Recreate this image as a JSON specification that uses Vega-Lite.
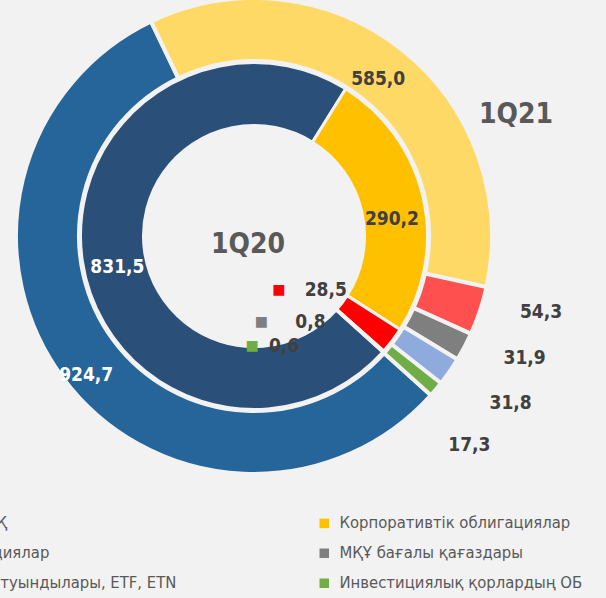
{
  "$schema": "https://vega.github.io/schema/vega-lite/v6.json",
  "width": 508,
  "height": 472,
  "autosize": {"type": "none"},
  "padding": {"left": 0, "top": 0, "right": 98, "bottom": 126},
  "background": "#f2f2f2",
  "config": {
    "view": {"stroke": null},
    "locale": {"number": {"decimal": ",", "thousands": " ", "grouping": [3], "currency": ["", ""]}},
    "text": {"font": "DejaVu Sans Condensed", "fontWeight": "bold", "fontSize": 19, "color": "#404040"},
    "legend": {
      "orient": "none",
      "legendX": -50,
      "legendY": 515,
      "columns": 2,
      "columnPadding": 139,
      "rowPadding": 13,
      "symbolType": "square",
      "symbolSize": 90,
      "symbolStrokeWidth": 0,
      "labelFont": "DejaVu Sans Condensed",
      "labelFontSize": 16.5,
      "labelColor": "#595959",
      "labelOffset": 7,
      "labelLimit": 0
    }
  },
  "data": {
    "values": [
      {"ring": "1Q21", "k": "blue", "cat": "МБҚ", "order": 1, "value": 924.7},
      {"ring": "1Q21", "k": "yellow", "cat": "Корпоративтік облигациялар", "order": 2, "value": 585.0},
      {"ring": "1Q21", "k": "red", "cat": "Акциялар", "order": 3, "value": 54.3},
      {"ring": "1Q21", "k": "grey", "cat": "МҚҰ бағалы қағаздары", "order": 4, "value": 31.9},
      {"ring": "1Q21", "k": "lightblue", "cat": "ДҚ туындылары, ETF, ETN", "order": 5, "value": 31.8},
      {"ring": "1Q21", "k": "green", "cat": "Инвестициялық қорлардың ОБ", "order": 6, "value": 17.3},
      {"ring": "1Q20", "k": "blue", "cat": "МБҚ", "order": 1, "value": 831.5},
      {"ring": "1Q20", "k": "yellow", "cat": "Корпоративтік облигациялар", "order": 2, "value": 290.2},
      {"ring": "1Q20", "k": "red", "cat": "Акциялар", "order": 3, "value": 28.5},
      {"ring": "1Q20", "k": "grey", "cat": "МҚҰ бағалы қағаздары", "order": 4, "value": 0.8},
      {"ring": "1Q20", "k": "lightblue", "cat": "ДҚ туындылары, ETF, ETN", "order": 5, "value": 0},
      {"ring": "1Q20", "k": "green", "cat": "Инвестициялық қорлардың ОБ", "order": 6, "value": 0.6}
    ]
  },
  "resolve": {"scale": {"theta": "independent", "color": "independent"}},
  "layer": [
    {
      "transform": [{"filter": "datum.ring === '1Q21'"}],
      "encoding": {
        "theta": {"field": "value", "type": "quantitative", "stack": true, "scale": {"range": [2.304, 8.587]}},
        "order": {"field": "order", "type": "quantitative"}
      },
      "layer": [
        {
          "mark": {"type": "arc", "innerRadius": 175, "outerRadius": 238, "stroke": "#f2f2f2", "strokeWidth": 4},
          "encoding": {
            "color": {
              "field": "cat", "type": "nominal", "legend": null,
              "scale": {
                "domain": ["МБҚ", "Акциялар", "ДҚ туындылары, ETF, ETN", "Корпоративтік облигациялар", "МҚҰ бағалы қағаздары", "Инвестициялық қорлардың ОБ"],
                "range": ["#266599", "#FF5050", "#8FAADC", "#FFD966", "#7F7F7F", "#70AD47"]
              }
            }
          }
        },
        {
          "mark": {"type": "text", "radius": 200, "color": "#404040"},
          "encoding": {"text": {"condition": {"test": "datum.k === 'yellow'", "field": "value", "type": "quantitative", "format": ".1f"}, "value": ""}}
        },
        {
          "mark": {"type": "text", "radius": 218, "thetaOffset": -0.05, "color": "#ffffff"},
          "encoding": {"text": {"condition": {"test": "datum.k === 'blue'", "field": "value", "type": "quantitative", "format": ".1f"}, "value": ""}}
        },
        {
          "mark": {"type": "text", "radius": 297, "thetaOffset": -0.06, "color": "#404040"},
          "encoding": {"text": {"condition": {"test": "datum.k === 'red' || datum.k === 'grey'", "field": "value", "type": "quantitative", "format": ".1f"}, "value": ""}}
        },
        {
          "mark": {"type": "text", "radius": 306, "thetaOffset": -0.03, "color": "#404040"},
          "encoding": {"text": {"condition": {"test": "datum.k === 'lightblue'", "field": "value", "type": "quantitative", "format": ".1f"}, "value": ""}}
        },
        {
          "mark": {"type": "text", "radius": 300, "thetaOffset": 0.07, "color": "#404040"},
          "encoding": {"text": {"condition": {"test": "datum.k === 'green'", "field": "value", "type": "quantitative", "format": ".1f"}, "value": ""}}
        }
      ]
    },
    {
      "transform": [{"filter": "datum.ring === '1Q20'"}],
      "encoding": {
        "theta": {"field": "value", "type": "quantitative", "stack": true, "scale": {"range": [2.304, 8.587]}},
        "order": {"field": "order", "type": "quantitative"}
      },
      "layer": [
        {
          "mark": {"type": "arc", "innerRadius": 110.5, "outerRadius": 173.5, "stroke": "#f2f2f2", "strokeWidth": 3},
          "encoding": {
            "color": {
              "field": "cat", "type": "nominal", "title": null,
              "scale": {
                "domain": ["МБҚ", "Акциялар", "ДҚ туындылары, ETF, ETN", "Корпоративтік облигациялар", "МҚҰ бағалы қағаздары", "Инвестициялық қорлардың ОБ"],
                "range": ["#2A507A", "#FF0000", "#8FAADC", "#FFC000", "#7F7F7F", "#70AD47"]
              }
            }
          }
        },
        {
          "mark": {"type": "text", "radius": 139, "thetaOffset": 0.1, "color": "#404040"},
          "encoding": {"text": {"condition": {"test": "datum.k === 'yellow'", "field": "value", "type": "quantitative", "format": ".1f"}, "value": ""}}
        },
        {
          "mark": {"type": "text", "radius": 140, "thetaOffset": -0.08, "color": "#ffffff"},
          "encoding": {"text": {"condition": {"test": "datum.k === 'blue'", "field": "value", "type": "quantitative", "format": ".1f"}, "value": ""}}
        },
        {
          "mark": {"type": "text", "radius": 90, "thetaOffset": 0, "color": "#404040"},
          "encoding": {"text": {"condition": {"test": "datum.k === 'red'", "field": "value", "type": "quantitative", "format": ".1f"}, "value": ""}}
        },
        {
          "mark": {"type": "text", "radius": 90, "thetaOffset": 0, "dx": -47, "color": "#FF0000", "fontSize": 14, "font": "DejaVu Sans"},
          "encoding": {"text": {"condition": {"test": "datum.k === 'red'", "value": "■"}, "value": ""}}
        },
        {
          "mark": {"type": "text", "radius": 103, "thetaOffset": 0.264, "color": "#404040"},
          "encoding": {"text": {"condition": {"test": "datum.k === 'grey'", "field": "value", "type": "quantitative", "format": ".1f"}, "value": ""}}
        },
        {
          "mark": {"type": "text", "radius": 103, "thetaOffset": 0.264, "dx": -49, "color": "#7F7F7F", "fontSize": 14, "font": "DejaVu Sans"},
          "encoding": {"text": {"condition": {"test": "datum.k === 'grey'", "value": "■"}, "value": ""}}
        },
        {
          "mark": {"type": "text", "radius": 113.5, "thetaOffset": 0.59, "dx": 2, "color": "#404040"},
          "encoding": {"text": {"condition": {"test": "datum.k === 'green'", "field": "value", "type": "quantitative", "format": ".1f"}, "value": ""}}
        },
        {
          "mark": {"type": "text", "radius": 113.5, "thetaOffset": 0.59, "dx": -30, "color": "#70AD47", "fontSize": 14, "font": "DejaVu Sans"},
          "encoding": {"text": {"condition": {"test": "datum.k === 'green'", "value": "■"}, "value": ""}}
        }
      ]
    },
    {
      "data": {"values": [{"ring": "1Q20"}]},
      "mark": {"type": "text", "fontSize": 28, "color": "#595959", "dx": -6, "dy": 9},
      "encoding": {"text": {"field": "ring", "type": "nominal"}}
    },
    {
      "data": {"values": [{"ring": "1Q21"}]},
      "mark": {"type": "text", "fontSize": 28, "color": "#595959", "dx": 262, "dy": -121},
      "encoding": {"text": {"field": "ring", "type": "nominal"}}
    }
  ]
}
